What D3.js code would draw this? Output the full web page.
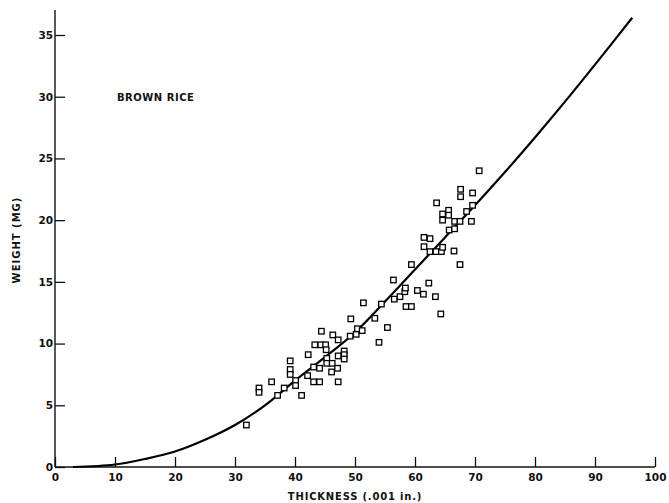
<!DOCTYPE html>
<html>
<head>
<meta charset="utf-8">
<script src="https://cdn.jsdelivr.net/npm/d3@7"></script>
<style>
  body { margin: 0; background: #fff; }
  svg text { font-family: "DejaVu Sans", sans-serif; font-weight: bold; fill: #111; }
</style>
</head>
<body>
<div id="chart"></div>
<script>
// measured grain values (thickness in .001 in., weight in mg)
const thickness = [31.9, 34.0, 34.0, 36.1, 37.1, 38.2, 39.2, 39.2, 39.2, 40.1, 40.1, 41.1, 42.1, 42.2,
  43.1, 44.1, 43.1, 44.1, 43.3, 44.3, 45.1, 44.4, 45.2, 45.3, 45.3, 46.2, 46.1, 46.3, 47.1, 47.2,
  47.2, 47.2, 48.2, 48.2, 48.2, 49.2, 49.3, 50.2, 50.4, 51.2, 51.4, 53.3, 54.0, 54.4, 55.4, 56.4,
  56.55, 57.5, 58.3, 58.4, 58.5, 59.4, 59.4, 60.4, 61.4, 62.3, 63.4, 64.3, 61.5, 62.5, 61.5, 62.5,
  63.5, 64.4, 64.6, 66.5, 67.5, 63.6, 64.6, 64.6, 65.6, 65.6, 65.7, 66.6, 66.6, 67.5, 69.4, 68.6,
  69.6, 69.6, 67.6, 67.6, 70.7];
const weight = [3.4, 6.4, 6.05, 6.9, 5.8, 6.4, 8.6, 7.9, 7.5, 7.0, 6.6, 5.8, 7.4, 9.1,
  6.9, 6.9, 8.1, 8.0, 9.9, 9.9, 9.9, 11.0, 9.5, 8.8, 8.4, 8.4, 7.7, 10.7, 8.0, 6.9,
  10.3, 9.0, 9.4, 9.1, 8.75, 10.6, 12.0, 10.75, 11.2, 11.05, 13.3, 12.05, 10.1, 13.2, 11.3, 15.15,
  13.6, 13.8, 14.2, 14.5, 13.0, 13.0, 16.4, 14.3, 14.0, 14.9, 13.8, 12.4, 18.6, 18.5, 17.85, 17.45,
  17.45, 17.45, 17.8, 17.5, 16.4, 21.4, 20.5, 20.0, 20.8, 20.4, 19.2, 19.3, 19.9, 19.9, 19.9, 20.7,
  21.2, 22.2, 22.5, 21.9, 24.0];

// fitted curve
const curveX = [3, 10, 15, 20, 25, 30, 35, 40, 45, 50, 55, 60, 65, 70, 75, 80, 85, 90, 96.2];
const curveY = [0, 0.2, 0.65, 1.25, 2.2, 3.4, 5.0, 7.0, 8.9, 10.9, 13.4, 16.0, 18.6, 21.2, 23.9, 26.7, 29.6, 32.6, 36.4];

const xTicks = [0, 10, 20, 30, 40, 50, 60, 70, 80, 90, 100];
const yTicks = [0, 5, 10, 15, 20, 25, 30, 35];

const width = 669, height = 503;

const svg = d3.select('#chart')
  .append('svg')
  .attr('width', width)
  .attr('height', height);

const x = d3.scaleLinear().domain([0, 100]).range([55, 655]);
const y = d3.scaleLinear().domain([0, 35]).range([467, 35]);

// axes, ticks pointing inward
const xAxis = svg.append('g')
  .attr('transform', `translate(0,${y(0)})`)
  .call(d3.axisBottom(x).tickValues(xTicks).tickSizeInner(-10).tickSizeOuter(0).tickPadding(7));

const yAxis = svg.append('g')
  .attr('transform', `translate(${x(0)},0)`)
  .call(d3.axisLeft(y).tickValues(yTicks).tickSizeInner(-10).tickSizeOuter(0).tickPadding(2));

[xAxis, yAxis].forEach(g => {
  g.select('.domain').remove();
  g.selectAll('.tick line').attr('stroke', '#111').attr('stroke-width', 1.3);
  g.selectAll('.tick text').style('font-size', '10.5px').attr('fill', '#111');
});

// axis lines drawn by hand so the y axis runs above the top tick
svg.append('line')
  .attr('x1', x(0)).attr('x2', x(0))
  .attr('y1', y(0)).attr('y2', 10)
  .attr('stroke', '#111').attr('stroke-width', 1.4);
svg.append('line')
  .attr('x1', x(0)).attr('x2', x(100))
  .attr('y1', y(0)).attr('y2', y(0))
  .attr('stroke', '#111').attr('stroke-width', 1.4);

// curve
const line = d3.line()
  .x(d => x(d[0]))
  .y(d => y(d[1]))
  .curve(d3.curveCatmullRom.alpha(0.5));

svg.append('path')
  .datum(d3.zip(curveX, curveY))
  .attr('d', line)
  .attr('fill', 'none')
  .attr('stroke', '#000')
  .attr('stroke-width', 2.2);

// open squares for the grains
const s = 5.5;
svg.append('g')
  .selectAll('rect')
  .data(d3.zip(thickness, weight))
  .join('rect')
  .attr('x', d => x(d[0]) - s / 2)
  .attr('y', d => y(d[1]) - s / 2)
  .attr('width', s)
  .attr('height', s)
  .attr('fill', '#fff')
  .attr('stroke', '#000')
  .attr('stroke-width', 1.3);

// labels
svg.append('text')
  .attr('x', 117).attr('y', 101)
  .style('font-size', '10px')
  .style('letter-spacing', '0.5px')
  .text('BROWN RICE');

svg.append('text')
  .attr('transform', 'translate(20,240) rotate(-90)')
  .attr('text-anchor', 'middle')
  .style('font-size', '10px')
  .style('letter-spacing', '1px')
  .text('WEIGHT (MG)');

svg.append('text')
  .attr('x', 355).attr('y', 500)
  .attr('text-anchor', 'middle')
  .style('font-size', '10px')
  .style('letter-spacing', '0.8px')
  .text('THICKNESS (.001 in.)');
</script>
</body>
</html>
